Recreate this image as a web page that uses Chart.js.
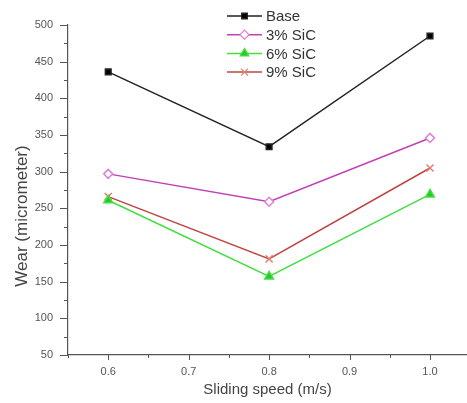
<!DOCTYPE html>
<html>
<head>
<meta charset="utf-8">
<script src="https://cdn.jsdelivr.net/npm/chart.js@4.4.0/dist/chart.umd.min.js"></script>
<style>
  html, body { margin: 0; padding: 0; background: #fff; }
  #wrap { width: 467px; height: 403px; }
</style>
</head>
<body>
<div id="wrap"><canvas id="wearChart" width="467" height="403"></canvas></div>
<script>
// sliding speed (m/s) and wear (micrometer)
const speeds = [0.6, 0.8, 1.0];
const wearBase = [436, 334, 485];
const wear3 = [297, 259, 346];
const wear6 = [261, 157, 269];
const wear9 = [266, 181, 305];

const seriesNames = ['Base', '3% SiC', '6% SiC', '9% SiC'];
const yTitle = 'Wear (micrometer)';
const xTitle = 'Sliding speed (m/s)';

const FONT = '"Liberation Sans", Arial, sans-serif';

function pts(vals) {
    return speeds.map((s, i) => ({ x: s, y: vals[i] }));
}

function isMajorX(v) { return Math.round(v * 100) % 10 === 0; }
function isMajorY(v) { return Math.round(v) % 50 === 0; }

// outward ticks, long for labelled values, short for the others
const axisTicks = {
    id: 'axisTicks',
    afterDraw(c) {
        const cx = c.ctx;
        const xs = c.scales.x, ys = c.scales.y;
        cx.save();
        cx.strokeStyle = '#555';
        cx.lineWidth = 1;
        cx.beginPath();
        xs.ticks.forEach(t => {
            const px = Math.round(xs.getPixelForValue(t.value)) + 0.5;
            cx.moveTo(px, xs.top);
            cx.lineTo(px, xs.top + (isMajorX(t.value) ? 5 : 3));
        });
        ys.ticks.forEach(t => {
            const py = Math.round(ys.getPixelForValue(t.value)) + 0.5;
            cx.moveTo(ys.right, py);
            cx.lineTo(ys.right - (isMajorY(t.value) ? 8 : 4), py);
        });
        cx.stroke();

        // y axis title, sits a bit below the middle like the original
        cx.translate(22, 216);
        cx.rotate(-Math.PI / 2);
        cx.fillStyle = '#444';
        cx.font = '17px ' + FONT;
        cx.textAlign = 'center';
        cx.textBaseline = 'middle';
        cx.fillText(yTitle, 0, 0);
        cx.restore();
    }
};

// legend drawn as line - marker - line
const lineLegend = {
    id: 'lineLegend',
    afterDraw(c) {
        const cx = c.ctx;
        const left = 227;
        const top = 16;
        const gap = 18.7;
        cx.save();
        c.data.datasets.forEach((ds, i) => {
            const y = top + i * gap;
            cx.strokeStyle = ds.borderColor;
            cx.lineWidth = 1.5;
            cx.beginPath();
            cx.moveTo(left, y);
            cx.lineTo(left + 35, y);
            cx.stroke();
            cx.fillStyle = ds.backgroundColor;
            cx.strokeStyle = ds.pointBorderColor || ds.borderColor;
            cx.lineWidth = 1.2;
            Chart.helpers.drawPoint(cx, {
                pointStyle: ds.pointStyle,
                radius: ds.pointRadius,
                borderWidth: 1.2
            }, left + 17.5, y);
            cx.fillStyle = '#333';
            cx.font = '15px ' + FONT;
            cx.textBaseline = 'middle';
            cx.fillText(ds.label, left + 39, y + 1);
        });
        cx.restore();
    }
};

var ctx = document.getElementById('wearChart').getContext('2d');

var chart = new Chart(ctx, {
    type: 'line',
    data: {
        datasets: [{
            label: seriesNames[0],
            data: pts(wearBase),
            borderColor: '#222222',
            backgroundColor: '#000000',
            pointStyle: 'rect',
            pointRadius: 4,
            borderWidth: 1.5
        }, {
            label: seriesNames[1],
            data: pts(wear3),
            borderColor: '#c040b8',
            backgroundColor: '#ffffff',
            pointBorderColor: '#e080d8',
            pointStyle: 'rectRot',
            pointRadius: 4.5,
            borderWidth: 1.5
        }, {
            label: seriesNames[2],
            data: pts(wear6),
            borderColor: '#44dd44',
            backgroundColor: '#22cc22',
            pointStyle: 'triangle',
            pointRadius: 5,
            borderWidth: 1.5
        }, {
            label: seriesNames[3],
            data: pts(wear9),
            borderColor: '#c04444',
            backgroundColor: '#e08080',
            pointBorderColor: '#e08070',
            pointStyle: 'crossRot',
            pointRadius: 5,
            borderWidth: 1.5
        }]
    },
    options: {
        responsive: false,
        animation: false,
        layout: { autoPadding: false, padding: { top: 25, right: 0, left: 0, bottom: 0 } },
        elements: {
            line: { tension: 0 },
            point: { borderWidth: 1.2, hoverRadius: 5 }
        },
        plugins: {
            legend: { display: false },
            tooltip: { enabled: false }
        },
        scales: {
            x: {
                type: 'linear',
                min: 0.55,
                max: 1.046,
                afterFit: function(s) {
                    s.height = 48;
                    s.paddingRight = 0;
                    s.paddingLeft = 0;
                },
                border: { display: true, color: '#555', width: 1.2 },
                grid: { drawOnChartArea: false, tickLength: 5, tickColor: 'rgba(0,0,0,0)' },
                title: {
                    display: true,
                    text: xTitle,
                    color: '#444',
                    font: { family: FONT, size: 15 },
                    padding: { top: 3 }
                },
                ticks: {
                    stepSize: 0.05,
                    includeBounds: false,
                    autoSkip: false,
                    maxRotation: 0,
                    color: '#555',
                    padding: 5,
                    font: { family: FONT, size: 11 },
                    callback: function(v) {
                        return isMajorX(v) ? v.toFixed(1) : '';
                    }
                }
            },
            y: {
                min: 50,
                max: 500,
                afterFit: function(s) { s.width = 68; },
                border: { display: true, color: '#555', width: 1.2 },
                grid: { drawOnChartArea: false, tickLength: 8, tickColor: 'rgba(0,0,0,0)' },
                title: { display: false },
                ticks: {
                    stepSize: 25,
                    autoSkip: false,
                    color: '#555',
                    padding: 7,
                    font: { family: FONT, size: 11 },
                    callback: function(v) {
                        return isMajorY(v) ? v : '';
                    }
                }
            }
        }
    },
    plugins: [axisTicks, lineLegend]
});
</script>
</body>
</html>
